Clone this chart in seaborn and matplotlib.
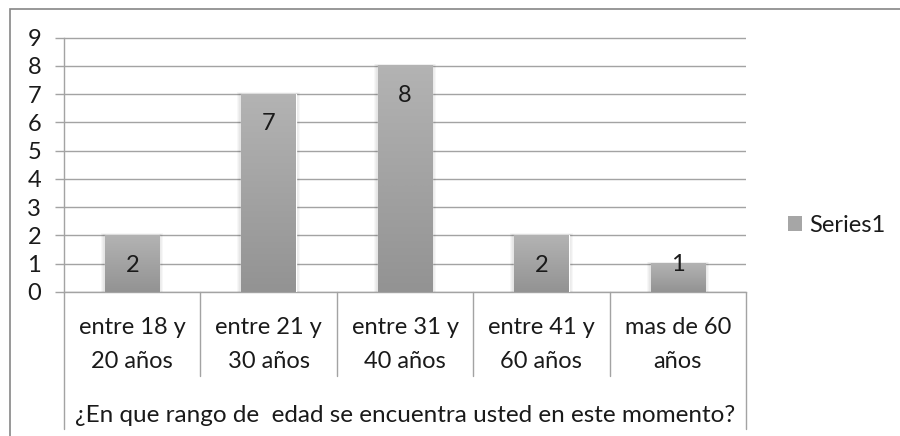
import matplotlib
matplotlib.use('Agg')
import matplotlib.pyplot as plt
import matplotlib.transforms as mtransforms
from matplotlib.patches import Rectangle, Patch
from matplotlib.lines import Line2D
from matplotlib.colors import LinearSegmentedColormap
import seaborn as sns
import numpy as np
import pandas as pd

categories = ["entre 18 y\n20 años", "entre 21 y\n30 años", "entre 31 y\n40 años",
              "entre 41 y\n60 años", "mas de 60\naños"]
values = [2, 7, 8, 2, 1]
yticks = [0, 1, 2, 3, 4, 5, 6, 7, 8, 9]
axis_title = "¿En que rango de  edad se encuentra usted en este momento?"
series_name = "Series1"

sns.set_theme(style='white')
plt.rcParams['font.family'] = ['Lato', 'DejaVu Sans']

FS = 17
W, H = 900, 436
fig = plt.figure(figsize=(W / 100, H / 100), dpi=100)
ax_left, ax_right, ax_top, ax_bot = 64, 746, 37.5, 292
ax = fig.add_axes([ax_left / W, 1 - ax_bot / H, (ax_right - ax_left) / W, (ax_bot - ax_top) / H])

df = pd.DataFrame({'cat': categories, 'val': values})
sns.barplot(data=df, x='cat', y='val', color='#a6a6a6', width=0.4, saturation=1,
            ax=ax, zorder=3)

ax.set_xlim(-0.5, len(categories) - 0.5)
ax.set_ylim(0, 9)
ax.set_yticks(yticks)

grid_c = '#a3a3a3'
ax.set_axisbelow(True)
ax.yaxis.grid(True, color=grid_c, lw=1)
ax.xaxis.grid(False)
for s in ['top', 'right']:
    ax.spines[s].set_visible(False)
for s in ['left', 'bottom']:
    ax.spines[s].set_color(grid_c)
    ax.spines[s].set_linewidth(1)

ax.tick_params(axis='y', left=True, length=6.5, width=1, color=grid_c, pad=10,
               labelsize=FS, labelcolor='#1a1a1a')
ax.tick_params(axis='x', bottom=False, pad=12, labelsize=FS, labelcolor='#1a1a1a')
for lab in ax.get_xticklabels():
    lab.set_linespacing(1.75)
ax.set_ylabel('')
ax.set_xlabel(axis_title, fontsize=17.5, color='#1a1a1a')
ax_h = ax_bot - ax_top
ax.xaxis.set_label_coords(0.5, (ax_bot - 415) / ax_h)
ax.xaxis.label.set_va('center')

# gradient bars + soft shadow
cmap = LinearSegmentedColormap.from_list('g', ['#939393', '#b3b3b3'])
grad = np.linspace(0, 1, 64).reshape(-1, 1)
px_x = (ax_right - ax_left) / len(categories)
px_y = ax_h / 9
for p, v in zip(ax.patches, values):
    x0, w, h = p.get_x(), p.get_width(), p.get_height()
    for k in (4, 3, 2, 1):
        ax.add_patch(Rectangle((x0 - k / px_x, 0), w + 2 * k / px_x, h + 0.5 * k / px_y,
                               facecolor='black', edgecolor='none', alpha=0.03, zorder=2.5))
    ax.imshow(grad, extent=[x0, x0 + w, 0, h], origin='lower', aspect='auto',
              cmap=cmap, zorder=3.2, interpolation='bilinear')
    ypos = v - 1.05 if v >= 2 else v - 0.03
    ax.text(x0 + w / 2, ypos, str(v), ha='center', va='center', fontsize=FS,
            color='#1a1a1a', zorder=5)
ax.set_xlim(-0.5, len(categories) - 0.5)
ax.set_ylim(0, 9)

# category table lines
trans = mtransforms.blended_transform_factory(ax.transData, ax.transAxes)
y_sep = (ax_bot - 376) / ax_h
y_out = (ax_bot - 429) / ax_h
for i in range(1, len(categories)):
    ax.add_line(Line2D([i - 0.5, i - 0.5], [0, y_sep], transform=trans, color=grid_c,
                       lw=1, clip_on=False))
for xv in (-0.5, len(categories) - 0.5):
    ax.add_line(Line2D([xv, xv], [0, y_out], transform=trans, color=grid_c,
                       lw=1, clip_on=False))

# chart border
fig.patches.append(Rectangle((10 / W, -0.1), 1.5, 1.1 - 9 / H, transform=fig.transFigure,
                             fill=False, edgecolor='#868686', lw=1.2))

fig.legend(handles=[Patch(facecolor='#a6a6a6', edgecolor='none')], labels=[series_name],
           loc='center left', bbox_to_anchor=(788 / W, 1 - 225 / H), frameon=False,
           fontsize=FS, handlelength=0.6, handleheight=0.6, handletextpad=0.3,
           borderpad=0, borderaxespad=0, labelcolor='#1a1a1a')

fig.savefig('out.png', dpi=100)
